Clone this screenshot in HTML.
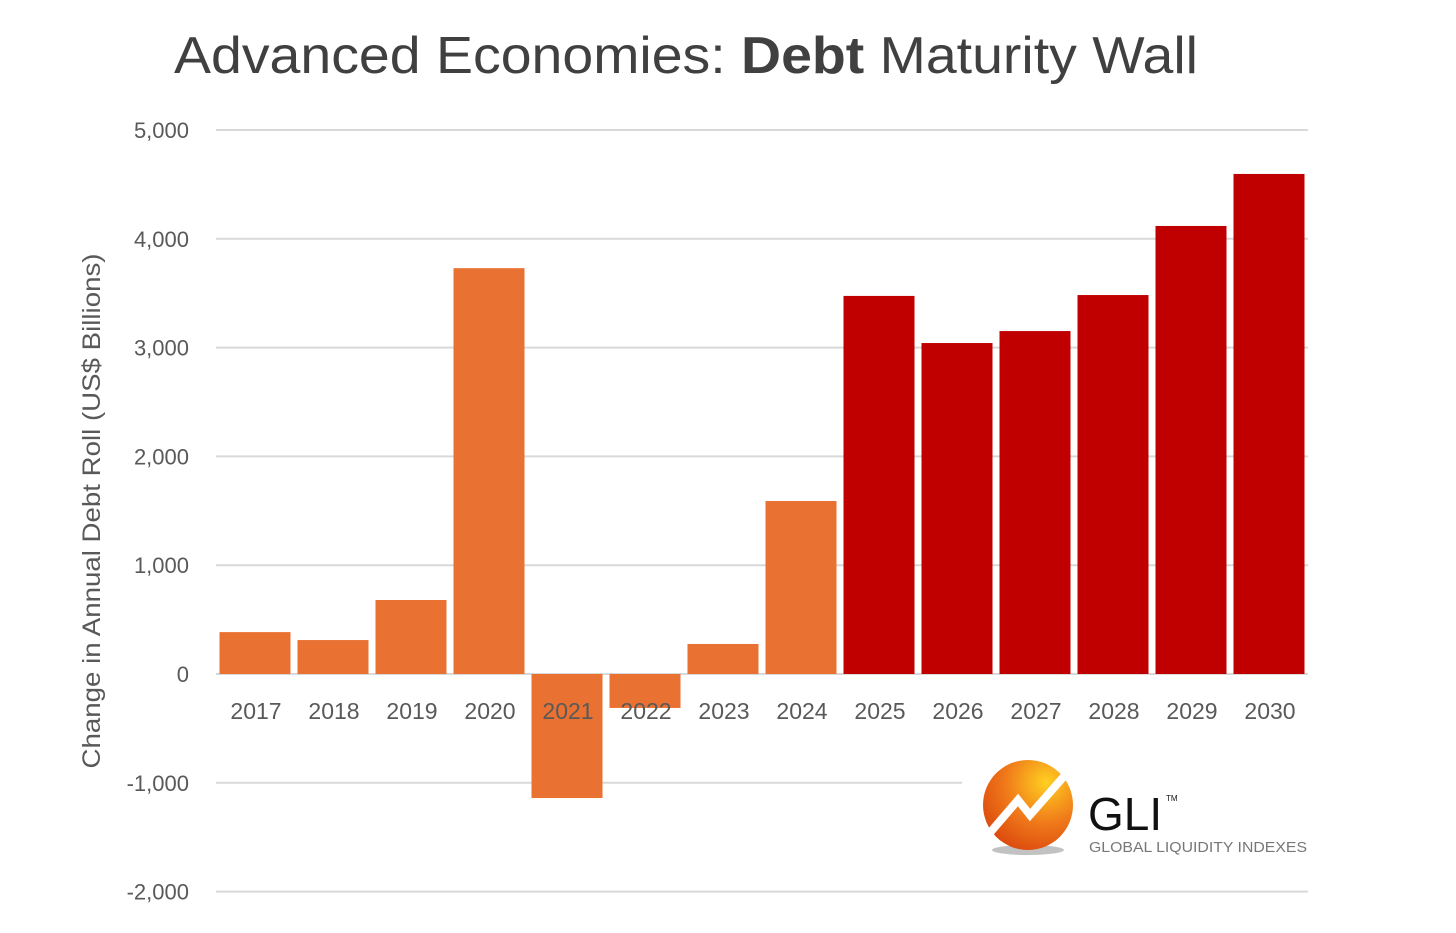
<!DOCTYPE html>
<html><head><meta charset="utf-8"><style>
body{margin:0;background:#fff;width:1456px;height:933px;overflow:hidden}
svg{display:block;font-family:"Liberation Sans",sans-serif}
</style></head><body>
<svg id="c" width="1456" height="933">
<text x="174" y="73" font-size="52" fill="#404040" textLength="1024" lengthAdjust="spacingAndGlyphs">Advanced Economies: <tspan font-weight="bold">Debt</tspan> Maturity Wall</text>
<text transform="translate(100,511) rotate(-90)" text-anchor="middle" font-size="25" fill="#595959" textLength="515" lengthAdjust="spacingAndGlyphs">Change in Annual Debt Roll (US$ Billions)</text>
<g id="grid"></g><g id="bars"></g><g id="xl"></g>
<g>
<rect x="962" y="745" width="350" height="120" fill="#fff"/>
<defs><radialGradient id="og" cx="0.7" cy="0.25" r="0.9"><stop offset="0" stop-color="#ffd020"/><stop offset="0.5" stop-color="#f07a1a"/><stop offset="1" stop-color="#d8400c"/></radialGradient></defs>
<ellipse cx="1028" cy="850" rx="36" ry="5" fill="#999" opacity="0.6"/>
<circle cx="1028" cy="805" r="45" fill="url(#og)"/>
<polyline points="988,835 1018,800 1030,815 1066,774" fill="none" stroke="#fff" stroke-width="8"/>
<text x="1088" y="830" font-size="46" fill="#111">GLI</text>
<text x="1166" y="801" font-size="8" fill="#111">TM</text>
<text x="1089" y="852" font-size="15" fill="#777" textLength="218" lengthAdjust="spacingAndGlyphs">GLOBAL LIQUIDITY INDEXES</text>
</g>
</svg>
<script>
const categories=["2017","2018","2019","2020","2021","2022","2023","2024","2025","2026","2027","2028","2029","2030"];
const values=[385,312,680,3730,-1140,-312,276,1590,3475,3042,3152,3483,4118,4596];
const forecast=[false,false,false,false,false,false,false,false,true,true,true,true,true,true];
const yTicks=[5000,4000,3000,2000,1000,0,-1000,-2000];
const yTickLabels=["5,000","4,000","3,000","2,000","1,000","0","-1,000","-2,000"];
const NS="http://www.w3.org/2000/svg";
const x0=216,x1=1308,yZero=674,pxPer=108.8/1000;
const y=v=>yZero-v*pxPer;
const band=(x1-x0)/categories.length;
const x=i=>x0+i*band;
function mk(t,a,p){const e=document.createElementNS(NS,t);for(const k in a)e.setAttribute(k,a[k]);p.appendChild(e);return e;}
const g=document.getElementById('grid');
yTicks.forEach((t,i)=>{
 const l=mk('line',{x1:x0,x2:x1,y1:y(t),y2:y(t),stroke:'#d9d9d9','stroke-width':2},g);
 
 
 const tx=mk('text',{x:189,y:y(t)+8,'text-anchor':'end','font-size':22,fill:'#595959'},g);
 tx.textContent=yTickLabels[i];
 
 
});
const b=document.getElementById('bars'),xl=document.getElementById('xl');
values.forEach((v,i)=>{
 const top=Math.min(y(v),y(0)),h=Math.abs(y(v)-y(0));
 const r=mk('rect',{x:x(i)+3.5,y:top,width:band-7,height:h,fill:forecast[i]?'#c00000':'#e97132'},b);
 
 
 const t=mk('text',{x:x(i)+band/2+1,y:719,'text-anchor':'middle','font-size':23,fill:'#595959'},xl);
 t.textContent=categories[i];
 
 
});
</script>
</body></html>
